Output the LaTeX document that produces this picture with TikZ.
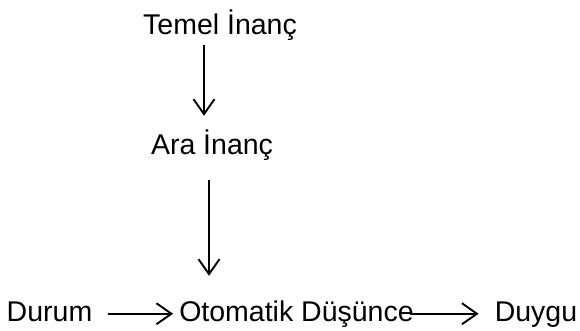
\documentclass[tikz,border=0pt]{standalone}
\usepackage{fontspec}
\setmainfont{Liberation Sans}
\usetikzlibrary{arrows.meta}
\begin{document}
\begin{tikzpicture}[x=1pt,y=-1pt,
  lbl/.style={inner sep=0pt, anchor=base, font=\fontsize{28.5}{34}\selectfont,
              text height=20.5pt, text depth=6pt},
  arr/.style={line width=1.9pt, -{Straight Barb[length=15pt,width=21pt,line width=1.9pt]}}]
\useasboundingbox (0,0) rectangle (580,331);
\node[lbl] (temel) at (220,35) {Temel İnanç};
\node[lbl] (ara) at (212,155) {Ara İnanç};
\node[lbl] (durum) at (49.5,321) {Durum};
\node[lbl] (oto) at (296.5,321) {Otomatik Düşünce};
\node[lbl] (duygu) at (536,321) {Duygu};
\coordinate (x1) at (204,0);
\coordinate (x2) at (209,0);
\draw[arr, shorten <=4pt, shorten >=18.5pt] (temel.south -| x1) -- (ara.north -| x1);
\draw[arr, shorten <=19pt, shorten >=24.5pt] (ara.south -| x2) -- (oto.north -| x2);
\draw[arr, shorten <=16pt, shorten >=6pt] (durum.east) -- (durum.east -| oto.west);
\draw[arr, shorten <=-4pt, shorten >=16pt] (oto.east) -- (oto.east -| duygu.west);
\end{tikzpicture}
\end{document}
